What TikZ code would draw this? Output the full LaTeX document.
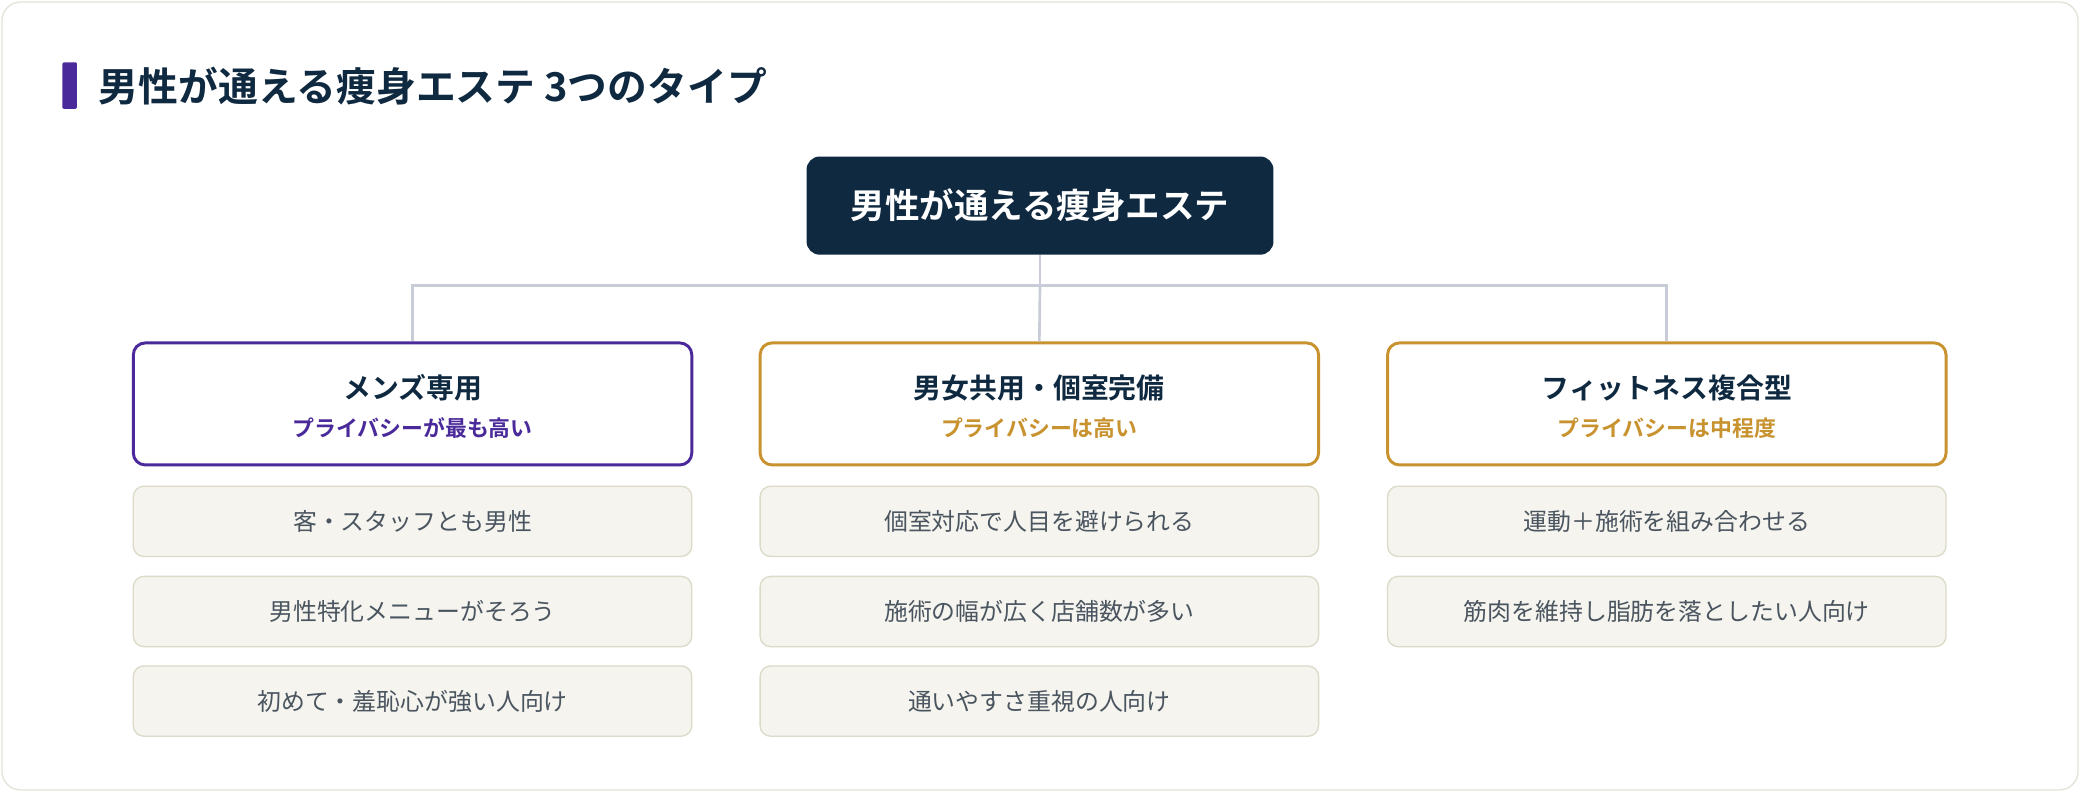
\documentclass[tikz,border=0pt]{standalone}
\usepackage{fontspec}
\setmainfont{Noto Sans CJK JP}[BoldFont={Noto Sans CJK JP Bold}]
\definecolor{navy}{HTML}{0F2940}
\definecolor{purp}{HTML}{4A2A9A}
\definecolor{gold}{HTML}{C8922F}
\definecolor{itemfill}{HTML}{F5F4EE}
\definecolor{itemdraw}{HTML}{DCDAC8}
\definecolor{itemtext}{HTML}{4A5560}
\definecolor{linec}{HTML}{C8CCD6}
\definecolor{frame}{HTML}{E2E2D6}
\begin{document}
\begin{tikzpicture}[x=1pt,y=-1pt,
  cat/.style={draw=#1,line width=2.2pt,rounded corners=9pt,fill=white,minimum width=421pt,minimum height=92pt},
  item/.style={draw=itemdraw,line width=1pt,rounded corners=8pt,fill=itemfill,minimum width=421pt,minimum height=53pt,text=itemtext,font=\fontsize{18}{21}\selectfont},
  conn/.style={draw=linec,line width=2pt}]
\useasboundingbox (0,0) rectangle (1568,597);
\draw[frame,line width=1pt,fill=white,rounded corners=14pt] (1.5,1.5) rectangle (1566.5,595.5);
\fill[purp,rounded corners=1pt] (47,47) rectangle (58,82);
\node[anchor=west,text=navy,font=\bfseries\fontsize{30}{34}\selectfont] (title) at (71,65) {男性が通える痩身エステ 3つのタイプ};
\node[fill=navy,rounded corners=10pt,minimum width=352pt,minimum height=74pt,text=white,font=\bfseries\fontsize{26}{30}\selectfont] (root) at (784,155) {男性が通える痩身エステ};
\node[cat=purp] (c1) at (311,304.5) {};
\node[cat=gold] (c2) at (783.5,304.5) {};
\node[cat=gold] (c3) at (1256.5,304.5) {};
\coordinate (j) at (784,215);
\draw[conn] (root.south) -- (j);
\draw[conn] (c1.north) -- (c1.north |- j) -- (c3.north |- j) -- (c3.north);
\draw[conn] (j) -- (c2.north);
\foreach \n/\t/\s/\c in {c1/メンズ専用/プライバシーが最も高い/purp, c2/男女共用・個室完備/プライバシーは高い/gold, c3/フィットネス複合型/プライバシーは中程度/gold}{
  \node[text=navy,font=\bfseries\fontsize{21}{24}\selectfont] (\n t) at ([yshift=12pt]\n.center) {\t};
  \node[text=\c,font=\bfseries\fontsize{16.5}{19}\selectfont] (\n s) at ([yshift=-18pt]\n.center) {\s};
}
\node[item] (a1) at (311,393) {客・スタッフとも男性};
\node[item] (a2) at (311,461) {男性特化メニューがそろう};
\node[item] (a3) at (311,528.5) {初めて・羞恥心が強い人向け};
\node[item] (b1) at (783.5,393) {個室対応で人目を避けられる};
\node[item] (b2) at (783.5,461) {施術の幅が広く店舗数が多い};
\node[item] (b3) at (783.5,528.5) {通いやすさ重視の人向け};
\node[item] (d1) at (1256.5,393) {運動＋施術を組み合わせる};
\node[item] (d2) at (1256.5,461) {筋肉を維持し脂肪を落としたい人向け};
\end{tikzpicture}
\end{document}
